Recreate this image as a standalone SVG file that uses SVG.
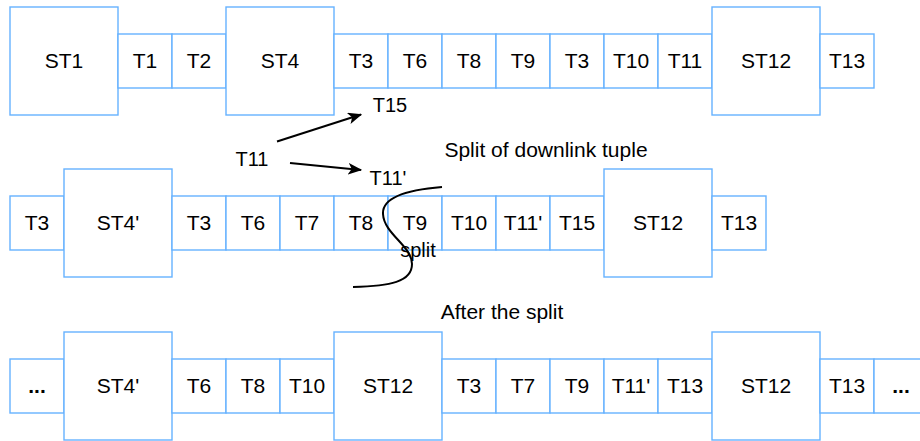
<svg xmlns="http://www.w3.org/2000/svg" width="920" height="441" viewBox="0 0 920 441">
<defs>
<style>
.b{fill:#fff;stroke:#66b2ff;stroke-width:1.4}
.t{font-family:"Liberation Sans",Arial,sans-serif;font-size:21px;fill:#000;text-anchor:middle}
.d{font-weight:bold}
.f{font-family:"Liberation Sans",Arial,sans-serif;font-size:20px;fill:#000;text-anchor:middle}
.c{fill:none;stroke:#000;stroke-width:2}
</style>
<marker id="ah" viewBox="0 0 12 10" refX="11" refY="5" markerWidth="7" markerHeight="6" orient="auto" markerUnits="strokeWidth">
<path d="M0,0 L12,5 L0,10 L3,5 Z" fill="#000"/>
</marker>
</defs>
<rect width="920" height="441" fill="#fff"/>

<!-- Row 1 -->
<g id="r1-st1"><rect class="b" x="10" y="7" width="108" height="108"/><text class="t" x="64" y="68">ST1</text></g>
<g id="r1-t1"><rect class="b" x="118" y="34" width="54" height="54"/><text class="t" x="145" y="68">T1</text></g>
<g id="r1-t2"><rect class="b" x="172" y="34" width="54" height="54"/><text class="t" x="199" y="68">T2</text></g>
<g id="r1-st4"><rect class="b" x="226" y="7" width="108" height="108"/><text class="t" x="280" y="68">ST4</text></g>
<g id="r1-t3a"><rect class="b" x="334" y="34" width="54" height="54"/><text class="t" x="361" y="68">T3</text></g>
<g id="r1-t6"><rect class="b" x="388" y="34" width="54" height="54"/><text class="t" x="415" y="68">T6</text></g>
<g id="r1-t8"><rect class="b" x="442" y="34" width="54" height="54"/><text class="t" x="469" y="68">T8</text></g>
<g id="r1-t9"><rect class="b" x="496" y="34" width="54" height="54"/><text class="t" x="523" y="68">T9</text></g>
<g id="r1-t3b"><rect class="b" x="550" y="34" width="54" height="54"/><text class="t" x="577" y="68">T3</text></g>
<g id="r1-t10"><rect class="b" x="604" y="34" width="54" height="54"/><text class="t" x="631" y="68">T10</text></g>
<g id="r1-t11"><rect class="b" x="658" y="34" width="54" height="54"/><text class="t" x="685" y="68">T11</text></g>
<g id="r1-st12"><rect class="b" x="712" y="7" width="108" height="108"/><text class="t" x="766" y="68">ST12</text></g>
<g id="r1-t13"><rect class="b" x="820" y="34" width="54" height="54"/><text class="t" x="847" y="68">T13</text></g>

<!-- Row 2 -->
<g id="r2-t3a"><rect class="b" x="10" y="196" width="54" height="54"/><text class="t" x="37" y="230">T3</text></g>
<g id="r2-st4p"><rect class="b" x="64" y="169" width="108" height="108"/><text class="t" x="118" y="230">ST4'</text></g>
<g id="r2-t3b"><rect class="b" x="172" y="196" width="54" height="54"/><text class="t" x="199" y="230">T3</text></g>
<g id="r2-t6"><rect class="b" x="226" y="196" width="54" height="54"/><text class="t" x="253" y="230">T6</text></g>
<g id="r2-t7"><rect class="b" x="280" y="196" width="54" height="54"/><text class="t" x="307" y="230">T7</text></g>
<g id="r2-t8"><rect class="b" x="334" y="196" width="54" height="54"/><text class="t" x="361" y="230">T8</text></g>
<g id="r2-t9"><rect class="b" x="388" y="196" width="54" height="54"/><text class="t" x="415" y="230">T9</text></g>
<g id="r2-t10"><rect class="b" x="442" y="196" width="54" height="54"/><text class="t" x="469" y="230">T10</text></g>
<g id="r2-t11p"><rect class="b" x="496" y="196" width="54" height="54"/><text class="t" x="523" y="230">T11'</text></g>
<g id="r2-t15"><rect class="b" x="550" y="196" width="54" height="54"/><text class="t" x="577" y="230">T15</text></g>
<g id="r2-st12"><rect class="b" x="604" y="169" width="108" height="108"/><text class="t" x="658" y="230">ST12</text></g>
<g id="r2-t13"><rect class="b" x="712" y="196" width="54" height="54"/><text class="t" x="739" y="230">T13</text></g>

<!-- Row 3 -->
<g id="r3-dots1"><rect class="b" x="10" y="359" width="54" height="54"/><text class="t d" x="37" y="393">...</text></g>
<g id="r3-st4p"><rect class="b" x="64" y="332" width="108" height="108"/><text class="t" x="118" y="393">ST4'</text></g>
<g id="r3-t6"><rect class="b" x="172" y="359" width="54" height="54"/><text class="t" x="199" y="393">T6</text></g>
<g id="r3-t8"><rect class="b" x="226" y="359" width="54" height="54"/><text class="t" x="253" y="393">T8</text></g>
<g id="r3-t10"><rect class="b" x="280" y="359" width="54" height="54"/><text class="t" x="307" y="393">T10</text></g>
<g id="r3-st12a"><rect class="b" x="334" y="332" width="108" height="108"/><text class="t" x="388" y="393">ST12</text></g>
<g id="r3-t3"><rect class="b" x="442" y="359" width="54" height="54"/><text class="t" x="469" y="393">T3</text></g>
<g id="r3-t7"><rect class="b" x="496" y="359" width="54" height="54"/><text class="t" x="523" y="393">T7</text></g>
<g id="r3-t9"><rect class="b" x="550" y="359" width="54" height="54"/><text class="t" x="577" y="393">T9</text></g>
<g id="r3-t11p"><rect class="b" x="604" y="359" width="54" height="54"/><text class="t" x="631" y="393">T11'</text></g>
<g id="r3-t13a"><rect class="b" x="658" y="359" width="54" height="54"/><text class="t" x="685" y="393">T13</text></g>
<g id="r3-st12b"><rect class="b" x="712" y="332" width="108" height="108"/><text class="t" x="766" y="393">ST12</text></g>
<g id="r3-t13b"><rect class="b" x="820" y="359" width="54" height="54"/><text class="t" x="847" y="393">T13</text></g>
<g id="r3-dots2"><rect class="b" x="874" y="359" width="54" height="54"/><text class="t d" x="901" y="393">...</text></g>

<!-- Labels -->
<g id="lbl-t15"><text class="f" x="390" y="112">T15</text></g>
<g id="lbl-t11"><text class="f" x="252" y="166">T11</text></g>
<g id="lbl-t11p"><text class="f" x="388" y="185">T11'</text></g>
<g id="lbl-split"><text class="f" x="418" y="257">split</text></g>
<g id="lbl-heading1"><text class="t" x="546" y="157">Split of downlink tuple</text></g>
<g id="lbl-heading2"><text class="t" x="502" y="319">After the split</text></g>

<!-- Connectors -->
<g id="connectors">
<line class="c" x1="277" y1="141.5" x2="361" y2="114.5" marker-end="url(#ah)"/>
<line class="c" x1="290" y1="163" x2="361" y2="170" marker-end="url(#ah)"/>
<path class="c" d="M442,187 C405,190 382,198 383,214 C384,234 412,246 412,264 C412,282 390,286 353,287"/>
</g>
</svg>
